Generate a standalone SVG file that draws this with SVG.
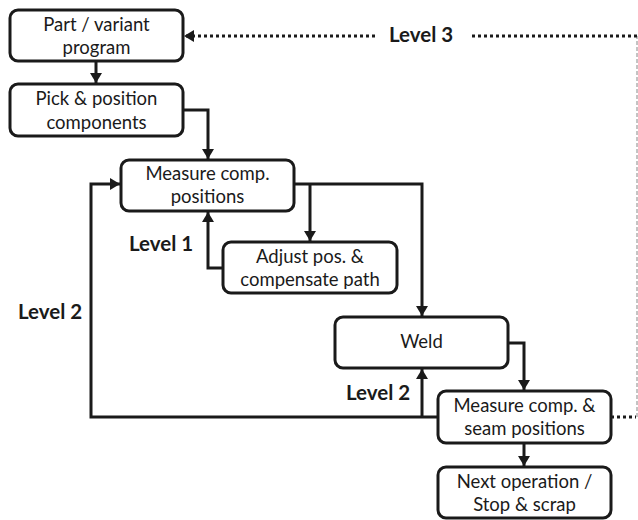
<svg xmlns="http://www.w3.org/2000/svg" width="638" height="520" viewBox="0 0 638 520">
<style>
.box{fill:#fff;stroke:#1a1a1a;stroke-width:3}
.t{font-family:Lato,"Liberation Sans",sans-serif;font-size:18.5px;fill:#1a1a1a;text-anchor:middle}
.lv{font-family:Lato,"Liberation Sans",sans-serif;font-size:20.5px;font-weight:bold;fill:#1a1a1a}
.c{fill:none;stroke:#1a1a1a;stroke-width:3}
.d{fill:none;stroke:#1a1a1a;stroke-width:3;stroke-dasharray:3 3}
.g{fill:none;stroke:#888;stroke-width:1;stroke-dasharray:4 2}
</style>
<defs>
<marker id="ah" markerUnits="userSpaceOnUse" markerWidth="12" markerHeight="12" refX="10" refY="6" orient="auto">
<path d="M0,0 L10,6 L0,12 Z" fill="#1a1a1a"/>
</marker>
</defs>
<g id="connectors">
<path class="c" d="M96,61 V83" marker-end="url(#ah)"/>
<path class="c" d="M183,110 H208 V159" marker-end="url(#ah)"/>
<path class="c" d="M294,184 H422 V316" marker-end="url(#ah)"/>
<path class="c" d="M310,184 V241" marker-end="url(#ah)"/>
<path class="c" d="M223,268 H208 V212" marker-end="url(#ah)"/>
<path class="c" d="M508,343 H524 V390" marker-end="url(#ah)"/>
<path class="c" d="M524,443 V466" marker-end="url(#ah)"/>
<path class="c" d="M438,417 H91 V184 H120" marker-end="url(#ah)"/>
<path class="c" d="M422,417 V369" marker-end="url(#ah)"/>
<path class="d" d="M611,417 H636"/>
<path class="g" d="M637,417 V36"/>
<path class="d" d="M637,36 H472"/>
<path class="d" d="M375,36 H184" marker-end="url(#ah)"/>
</g>
<g id="labels">
<text class="lv" x="389" y="42">Level 3</text>
<text class="lv" x="129" y="251">Level 1</text>
<text class="lv" x="18" y="319">Level 2</text>
<text class="lv" x="346" y="400">Level 2</text>
</g>
<g id="n1"><rect class="box" x="10" y="10" width="173" height="51" rx="8"/><text class="t" x="96.5" y="31">Part / variant</text><text class="t" x="96.5" y="54">program</text></g>
<g id="n2"><rect class="box" x="10" y="84" width="173" height="52" rx="8"/><text class="t" x="96.5" y="105">Pick &amp; position</text><text class="t" x="96.5" y="129">components</text></g>
<g id="n3"><rect class="box" x="121" y="160" width="173" height="51" rx="8"/><text class="t" x="207.5" y="180">Measure comp.</text><text class="t" x="207.5" y="203">positions</text></g>
<g id="n4"><rect class="box" x="223" y="242" width="174" height="51" rx="8"/><text class="t" x="310" y="263">Adjust pos. &amp;</text><text class="t" x="310" y="286">compensate path</text></g>
<g id="n5"><rect class="box" x="335" y="317" width="173" height="51" rx="8"/><text class="t" x="421.5" y="348">Weld</text></g>
<g id="n6"><rect class="box" x="438" y="391" width="173" height="52" rx="8"/><text class="t" x="524.5" y="412">Measure comp. &amp;</text><text class="t" x="524.5" y="435">seam positions</text></g>
<g id="n7"><rect class="box" x="438" y="467" width="173" height="51" rx="8"/><text class="t" x="524.5" y="488">Next operation /</text><text class="t" x="524.5" y="511">Stop &amp; scrap</text></g>
</svg>
